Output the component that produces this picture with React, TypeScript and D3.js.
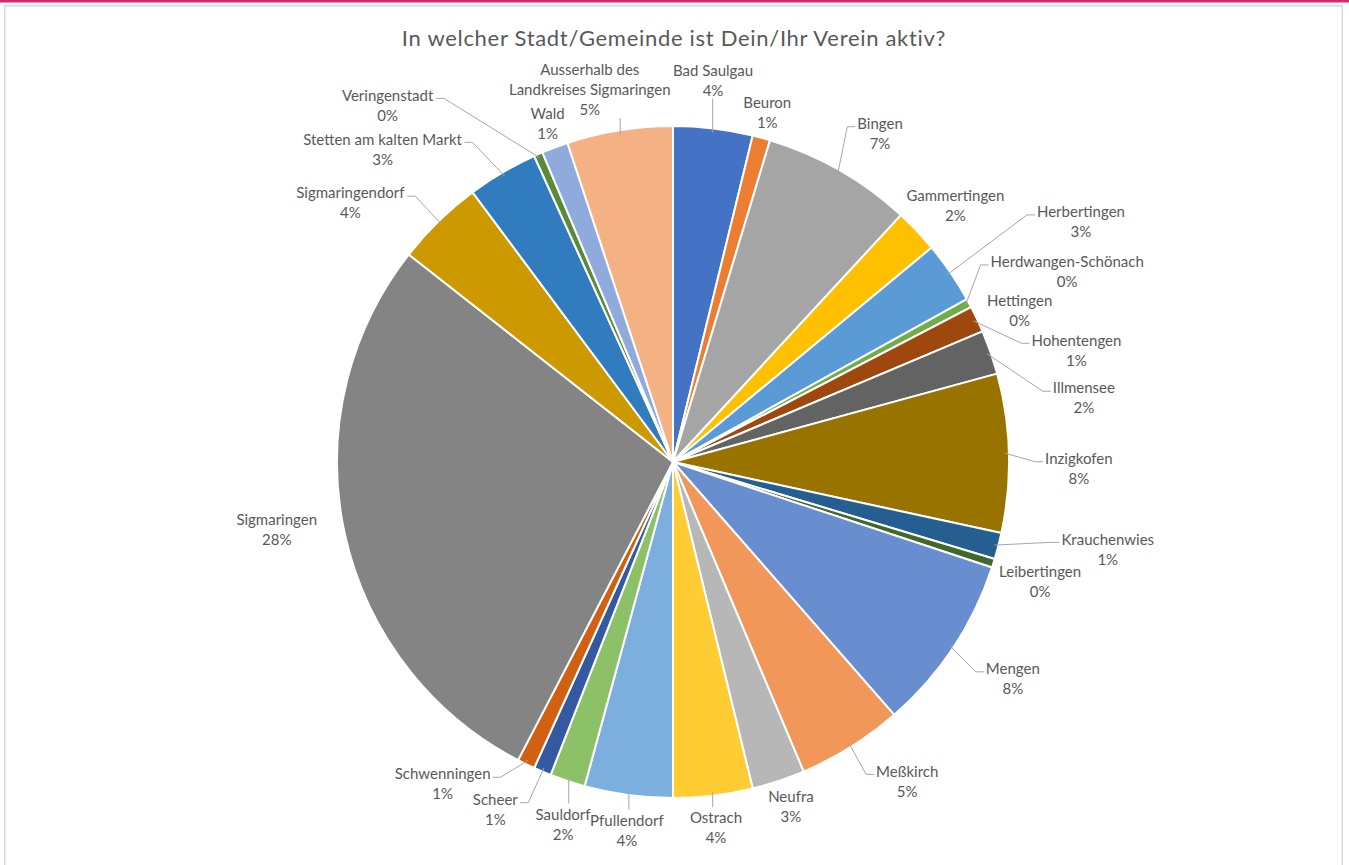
import React, { useEffect, useRef } from "react";
import * as d3 from "d3";

const title = "In welcher Stadt/Gemeinde ist Dein/Ihr Verein aktiv?";

const categories = [
  "Bad Saulgau", "Beuron", "Bingen", "Gammertingen", "Herbertingen",
  "Herdwangen-Schönach", "Hettingen", "Hohentengen", "Illmensee", "Inzigkofen",
  "Krauchenwies", "Leibertingen", "Mengen", "Meßkirch", "Neufra",
  "Ostrach", "Pfullendorf", "Sauldorf", "Scheer", "Schwenningen",
  "Sigmaringen", "Sigmaringendorf", "Stetten am kalten Markt", "Veringenstadt", "Wald",
  "Ausserhalb des\nLandkreises Sigmaringen",
];

const values = [
  9, 2, 17, 5, 7,
  1, 0, 3, 5, 18,
  3, 1, 20, 12, 6,
  9, 10, 4, 2, 2,
  66, 10, 8, 1, 3,
  12,
];

const colors = [
  "#4472C4", "#ED7D31", "#A5A5A5", "#FFC000", "#5B9BD5",
  "#70AD47", "#264478", "#9E480E", "#636363", "#997300",
  "#255E91", "#43682B", "#698ED0", "#F1975A", "#B7B7B7",
  "#FFCD33", "#7CAFDD", "#8CC168", "#335AA1", "#D26012",
  "#848484", "#CC9A00", "#317BBF", "#5A8A39", "#8FAADC",
  "#F4B183",
];

// label layout nudges (pixels) relative to the computed outer anchor
const labelNudgeX = [
  -6, -7, 16, 3, 90,
  55, 5, 55, 47, 21,
  62, 0, 19, 30, -3,
  -3, 5, 11, -28, -62,
  -20, -54, -95, -131, 10,
  -22,
];
const labelNudgeY = [
  1, 22, 6, 9, -23,
  -8, 26, 52, 62, 17,
  -9, 4, 4, -7, -21,
  -16, -13, -3, -7, -24,
  -14, 17, 19, -4, 22,
  8,
];
const showLeader = [
  true, false, true, false, true,
  true, false, true, true, true,
  true, false, true, true, false,
  true, true, true, true, true,
  false, true, true, true, false,
  true,
];

const W = 1349;
const H = 865;
const CX = 673;
const CY = 462;
const R = 336;
const LABEL_R = 385;
const LINE_H = 20;
const FONT = "Lato, 'Open Sans', sans-serif";
const TEXT_COLOR = "#595959";

export default function App() {
  const ref = useRef<SVGSVGElement>(null);

  useEffect(() => {
    const svg = d3.select(ref.current as SVGSVGElement);
    svg.selectAll("*").remove();

    svg.append("rect").attr("width", W).attr("height", H).attr("fill", "#ffffff");
    svg.append("rect").attr("x", 0).attr("y", 0).attr("width", W).attr("height", 2.5).attr("fill", "#D6286F");
    svg.append("path")
      .attr("d", `M4.75,${H + 5} V5.75 H1342.25 V${H + 5}`)
      .attr("fill", "none")
      .attr("stroke", "#D9D9D9")
      .attr("stroke-width", 1.5);

    svg.append("text")
      .attr("x", 674)
      .attr("y", 38)
      .attr("dy", "0.35em")
      .attr("text-anchor", "middle")
      .attr("font-family", FONT)
      .attr("font-size", 22)
      .attr("letter-spacing", 0.7)
      .attr("fill", TEXT_COLOR)
      .text(title);

    const total = d3.sum(values);
    const pie = d3.pie<number>().sort(null).value((d) => d)(values);
    const arc = d3.arc<d3.PieArcDatum<number>>().innerRadius(0).outerRadius(R);

    const g = svg.append("g").attr("transform", `translate(${CX},${CY})`);

    g.selectAll("path.slice")
      .data(pie)
      .join("path")
      .attr("class", "slice")
      .attr("d", (d) => arc(d) as string)
      .attr("fill", (_d, i) => colors[i])
      .attr("stroke", "#ffffff")
      .attr("stroke-width", 2)
      .attr("stroke-linejoin", "round");

    const leaders = g.append("g");
    const labels = g.append("g");

    pie.forEach((d, i) => {
      const a = (d.startAngle + d.endAngle) / 2;
      const bx = LABEL_R * Math.sin(a) + labelNudgeX[i];
      const by = -LABEL_R * Math.cos(a) + labelNudgeY[i];
      const pct = Math.round((values[i] / total) * 100) + "%";
      const lines = [...categories[i].split("\n"), pct];
      const top = by - (lines.length * LINE_H) / 2;

      const t = labels.append("text")
        .attr("text-anchor", "middle")
        .attr("font-family", FONT)
        .attr("font-size", 15)
        .attr("fill", TEXT_COLOR);
      lines.forEach((ln, k) => {
        t.append("tspan")
          .attr("x", bx)
          .attr("y", top + LINE_H * k + LINE_H / 2)
          .attr("dy", "0.35em")
          .text(ln);
      });

      if (!showLeader[i]) return;
      const node = t.node() as SVGTextElement;
      const bb = node.getBBox();
      const x0 = bb.x - 2;
      const x1 = bb.x + bb.width + 2;
      const y0 = top;
      const y1 = top + lines.length * LINE_H;
      const px = (R - 4) * Math.sin(a);
      const py = -(R - 4) * Math.cos(a);
      const nameY = top + LINE_H / 2 + 3;
      let pts: [number, number][];
      if (px < x0) {
        pts = [[x0, nameY], [x0 - 8, nameY], [px, py]];
      } else if (px > x1) {
        pts = [[x1, nameY], [x1 + 8, nameY], [px, py]];
      } else if (py < y0) {
        pts = [[px, y0 - 1], [px, py]];
      } else {
        pts = [[px, y1 - 2], [px, py]];
      }
      leaders.append("path")
        .attr("d", d3.line()(pts) as string)
        .attr("fill", "none")
        .attr("stroke", "#A6A6A6")
        .attr("stroke-width", 1);
    });
  }, []);

  return (
    <div style={{ position: "fixed", left: 0, top: 0, width: W, height: H, overflow: "hidden" }}>
      <svg ref={ref} width={W} height={H} style={{ display: "block" }} />
    </div>
  );
}
